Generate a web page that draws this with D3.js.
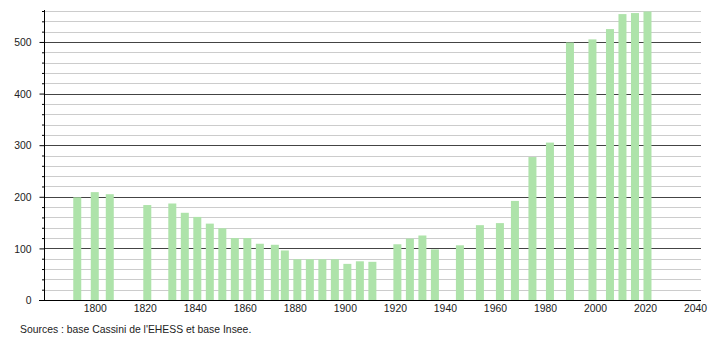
<!DOCTYPE html>
<html>
<head>
<meta charset="utf-8">
<script src="https://cdn.jsdelivr.net/npm/d3@7"></script>
<style>
  body { margin: 0; background: #fff; }
  svg { display: block; font-family: "Liberation Sans", Arial, sans-serif; }
</style>
</head>
<body>
<svg id="chart" width="710" height="340"></svg>
<script>
const years = [1793, 1800, 1806, 1821, 1831, 1836, 1841, 1846, 1851, 1856, 1861, 1866, 1872, 1876,
  1881, 1886, 1891, 1896, 1901, 1906, 1911, 1921, 1926, 1931, 1936, 1946, 1954, 1962, 1968,
  1975, 1982, 1990, 1999, 2006, 2011, 2016, 2021];
const population = [199, 209, 205, 184, 187, 169, 161, 148, 139, 120, 120, 109, 107, 96,
  79, 79, 79, 79, 70, 75, 74, 108, 119, 125, 98, 106, 145, 149, 192,
  277, 305, 499, 505, 525, 554, 556, 559];
const xTickLabels = [1800, 1820, 1840, 1860, 1880, 1900, 1920, 1940, 1960, 1980, 2000, 2020, 2040];
const yTickLabels = [0, 100, 200, 300, 400, 500];
const sourceText = "Sources : base Cassini de l'EHESS et base Insee.";

const svg = d3.select("#chart");
const mLeft = 44, mRight = 701, mTop = 11, mBottom = 300;
const fs = 10.4;

const x = d3.scaleLinear().domain([1779.7, 2042.4]).range([mLeft, mRight]);
const y = d3.scaleLinear().domain([0, 560]).range([mBottom, mTop]);

// gridlines
const minor = d3.range(20, 561, 20).filter(v => v % 100 !== 0);
svg.append("g").selectAll("line").data(minor).join("line")
  .attr("x1", mLeft).attr("x2", mRight)
  .attr("y1", d => Math.round(y(d)) + 0.5).attr("y2", d => Math.round(y(d)) + 0.5)
  .attr("stroke", "#cccccc").attr("stroke-width", 1);
svg.append("g").selectAll("line").data(yTickLabels.filter(v => v > 0)).join("line")
  .attr("x1", mLeft).attr("x2", mRight)
  .attr("y1", d => Math.round(y(d)) + 0.5).attr("y2", d => Math.round(y(d)) + 0.5)
  .attr("stroke", "#444444").attr("stroke-width", 1);

// bars
const bw = 8;
svg.append("g").selectAll("rect").data(years).join("rect")
  .attr("x", (d) => x(d) - bw / 2)
  .attr("width", bw)
  .attr("y", (d, i) => y(population[i]))
  .attr("height", (d, i) => mBottom - y(population[i]))
  .attr("fill", "#aee3aa");

// y axis
const yAxis = d3.axisLeft(y).tickValues(d3.range(0, 561, 20))
  .tickSize(0).tickFormat("");
const gy = svg.append("g").attr("transform", `translate(${mLeft + 0.5},0)`).call(yAxis);
gy.select(".domain").remove();
gy.append("line").attr("x1", 0).attr("x2", 0).attr("y1", mTop - 1).attr("y2", mBottom)
  .attr("stroke", "#000");
gy.selectAll(".tick").append("line")
  .attr("x1", d => d % 100 === 0 ? -5 : -2.5).attr("x2", 0)
  .attr("y1", 0).attr("y2", 0).attr("stroke", "#000");
gy.selectAll(".tick").filter(d => d % 100 === 0).append("text")
  .attr("x", -13).attr("dy", "0.35em").attr("text-anchor", "end")
  .attr("fill", "#222").attr("font-size", fs).text(d => d);

// x axis
const xAxis = d3.axisBottom(x).tickValues(xTickLabels).tickSize(0).tickPadding(4)
  .tickFormat(d3.format("d"));
const gx = svg.append("g").attr("transform", `translate(0,${mBottom + 0.5})`).call(xAxis);
gx.select(".domain").remove();
gx.append("line").attr("x1", mLeft - 5).attr("x2", mRight).attr("y1", 0).attr("y2", 0)
  .attr("stroke", "#000");
gx.selectAll("text").attr("fill", "#222").attr("font-size", fs)
  .attr("font-family", "Liberation Sans, Arial, sans-serif");

svg.append("text").attr("x", 20).attr("y", 333)
  .attr("font-size", fs).attr("fill", "#222").text(sourceText);
</script>
</body>
</html>
